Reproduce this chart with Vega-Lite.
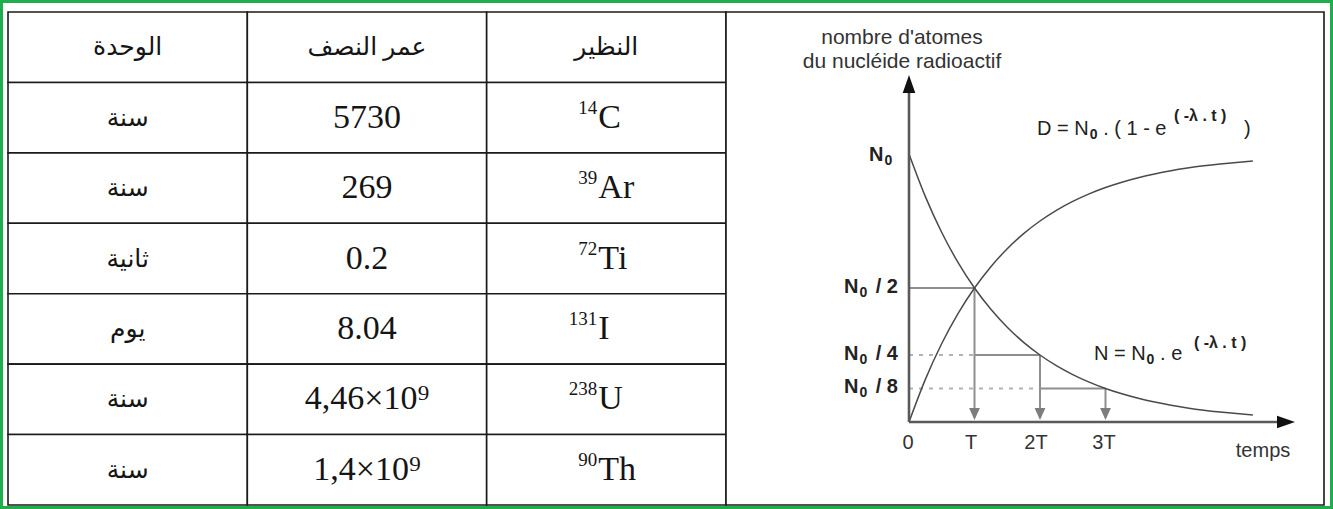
{
  "$schema": "https://vega.github.io/schema/vega-lite/v6.json",
  "width": 1333,
  "height": 509,
  "padding": 0,
  "autosize": {"type": "none"},
  "background": "white",
  "config": {"view": {"stroke": "#1fae4b", "strokeWidth": 6, "fill": "white"}},
  "datasets": {
    "table": [
      {"col": "unit", "row": 0, "txt": "الوحدة"}, {"col": "half", "row": 0, "txt": "عمر النصف"}, {"col": "iso", "row": 0, "txt": "النظير"},
      {"col": "unit", "row": 1, "txt": "سنة"}, {"col": "half", "row": 1, "txt": "5730"}, {"col": "iso", "row": 1, "txt": ""},
      {"col": "unit", "row": 2, "txt": "سنة"}, {"col": "half", "row": 2, "txt": "269"}, {"col": "iso", "row": 2, "txt": ""},
      {"col": "unit", "row": 3, "txt": "ثانية"}, {"col": "half", "row": 3, "txt": "0.2"}, {"col": "iso", "row": 3, "txt": ""},
      {"col": "unit", "row": 4, "txt": "يوم"}, {"col": "half", "row": 4, "txt": "8.04"}, {"col": "iso", "row": 4, "txt": ""},
      {"col": "unit", "row": 5, "txt": "سنة"}, {"col": "half", "row": 5, "txt": "4,46×10⁹"}, {"col": "iso", "row": 5, "txt": ""},
      {"col": "unit", "row": 6, "txt": "سنة"}, {"col": "half", "row": 6, "txt": "1,4×10⁹"}, {"col": "iso", "row": 6, "txt": ""}
    ],
    "iso": [
      {"col": "iso", "row": 1, "mass": "14", "sym": "C"},
      {"col": "iso", "row": 2, "mass": "39", "sym": "Ar"},
      {"col": "iso", "row": 3, "mass": "72", "sym": "Ti"},
      {"col": "iso", "row": 4, "mass": "131", "sym": "I"},
      {"col": "iso", "row": 5, "mass": "238", "sym": "U"},
      {"col": "iso", "row": 6, "mass": "90", "sym": "Th"}
    ],
    "cell": [{"cell": "graph", "rows": "all"}],
    "curves": [
      {"t": 0, "N": 1, "D": 0}, {"t": 0.25, "N": 0.8409, "D": 0.1591}, {"t": 0.5, "N": 0.7071, "D": 0.2929},
      {"t": 0.75, "N": 0.5946, "D": 0.4054}, {"t": 1, "N": 0.5, "D": 0.5}, {"t": 1.25, "N": 0.4204, "D": 0.5796},
      {"t": 1.5, "N": 0.3536, "D": 0.6464}, {"t": 1.75, "N": 0.2973, "D": 0.7027}, {"t": 2, "N": 0.25, "D": 0.75},
      {"t": 2.25, "N": 0.2102, "D": 0.7898}, {"t": 2.5, "N": 0.1768, "D": 0.8232}, {"t": 2.75, "N": 0.1487, "D": 0.8513},
      {"t": 3, "N": 0.125, "D": 0.875}, {"t": 3.25, "N": 0.1051, "D": 0.8949}, {"t": 3.5, "N": 0.0884, "D": 0.9116},
      {"t": 3.75, "N": 0.0743, "D": 0.9257}, {"t": 4, "N": 0.0625, "D": 0.9375}, {"t": 4.25, "N": 0.0526, "D": 0.9474},
      {"t": 4.5, "N": 0.0442, "D": 0.9558}, {"t": 4.75, "N": 0.0372, "D": 0.9628}, {"t": 5, "N": 0.0313, "D": 0.9687},
      {"t": 5.25, "N": 0.0263, "D": 0.9737}
    ],
    "axes": [
      {"t": 0, "v": 0, "t2": 0, "v2": 1.2612},
      {"t": 0, "v": 0, "t2": 5.756, "v2": 0}
    ],
    "solid": [
      {"t": 0, "v": 0.5, "t2": 1, "v2": 0.5},
      {"t": 1, "v": 0.25, "t2": 2, "v2": 0.25},
      {"t": 2, "v": 0.125, "t2": 3, "v2": 0.125},
      {"t": 1, "v": 0.5, "t2": 1, "v2": 0.035},
      {"t": 2, "v": 0.25, "t2": 2, "v2": 0.035},
      {"t": 3, "v": 0.125, "t2": 3, "v2": 0.035}
    ],
    "dotted": [
      {"t": 0, "v": 0.25, "t2": 1, "v2": 0.25},
      {"t": 0, "v": 0.125, "t2": 2, "v2": 0.125}
    ],
    "upArrow": [{"t": 0, "v": 1.2612}],
    "rightArrow": [{"t": 5.756, "v": 0}],
    "downArrows": [{"t": 1, "v": 0.0299}, {"t": 2, "v": 0.0299}, {"t": 3, "v": 0.0299}],
    "labels": [
      {"t": -0.107, "v": 1.4328, "label": "nombre d'atomes", "role": "title"},
      {"t": -0.107, "v": 1.3433, "label": "du nucléide radioactif", "role": "title"},
      {"t": -0.6107, "v": 0.9963, "label": "N", "role": "ylabL"},
      {"t": -0.374, "v": 0.9739, "label": "0", "role": "sub"},
      {"t": -0.9924, "v": 0.5037, "label": "N", "role": "ylabL"},
      {"t": -0.7557, "v": 0.4813, "label": "0", "role": "sub"},
      {"t": -0.168, "v": 0.5037, "label": "/ 2", "role": "ylabR"},
      {"t": -0.9924, "v": 0.2537, "label": "N", "role": "ylabL"},
      {"t": -0.7557, "v": 0.2313, "label": "0", "role": "sub"},
      {"t": -0.168, "v": 0.2537, "label": "/ 4", "role": "ylabR"},
      {"t": -0.9924, "v": 0.1306, "label": "N", "role": "ylabL"},
      {"t": -0.7557, "v": 0.1082, "label": "0", "role": "sub"},
      {"t": -0.168, "v": 0.1306, "label": "/ 8", "role": "ylabR"},
      {"t": -0.015, "v": -0.0784, "label": "0", "role": "xlab"},
      {"t": 0.947, "v": -0.0784, "label": "T", "role": "xlab"},
      {"t": 1.939, "v": -0.0784, "label": "2T", "role": "xlab"},
      {"t": 2.977, "v": -0.0784, "label": "3T", "role": "xlab"},
      {"t": 5.405, "v": -0.1082, "label": "temps", "role": "xlab"},
      {"t": 1.954, "v": 1.0933, "label": "D = N", "role": "formula"},
      {"t": 2.76, "v": 1.0709, "label": "0", "role": "sub"},
      {"t": 2.964, "v": 1.0933, "label": ". ( 1 - e", "role": "formula"},
      {"t": 4.046, "v": 1.1418, "label": "( -λ  .  t )", "role": "sup"},
      {"t": 5.115, "v": 1.0933, "label": ")", "role": "formula"},
      {"t": 2.824, "v": 0.2537, "label": "N = N", "role": "formula"},
      {"t": 3.626, "v": 0.2313, "label": "0", "role": "sub"},
      {"t": 3.833, "v": 0.2537, "label": ". e", "role": "formula"},
      {"t": 4.35, "v": 0.2948, "label": "( -λ  .  t )", "role": "sup"}
    ]
  },
  "layer": [
    {
      "encoding": {
        "x": {"field": "col", "type": "nominal", "axis": null,
              "scale": {"domain": ["unit", "half", "iso"], "range": [8, 726], "paddingInner": 0, "paddingOuter": 0}},
        "y": {"field": "row", "type": "ordinal", "axis": null,
              "scale": {"domain": [0, 1, 2, 3, 4, 5, 6], "range": [12, 505], "paddingInner": 0, "paddingOuter": 0}}
      },
      "layer": [
        {"data": {"name": "table"},
         "mark": {"type": "rect", "fill": "white", "stroke": "#1a1a1a", "strokeWidth": 1.6}},
        {"data": {"name": "table"},
         "transform": [{"filter": "datum.col == 'unit' || datum.row == 0"}],
         "mark": {"type": "text", "font": "Liberation Serif, DejaVu Sans", "fontSize": 25, "color": "#151515", "baseline": "middle", "align": "center"},
         "encoding": {"text": {"field": "txt"}}},
        {"data": {"name": "table"},
         "transform": [{"filter": "datum.col == 'half' && datum.row != 0"}],
         "mark": {"type": "text", "font": "Liberation Serif", "fontSize": 34, "color": "#151515", "baseline": "middle", "align": "center"},
         "encoding": {"text": {"field": "txt"}}},
        {"data": {"name": "iso"},
         "mark": {"type": "text", "font": "Liberation Serif", "fontSize": 34, "color": "#151515", "baseline": "middle", "align": "left", "dx": -8},
         "encoding": {"text": {"field": "sym"}}},
        {"data": {"name": "iso"},
         "mark": {"type": "text", "font": "Liberation Serif", "fontSize": 19, "color": "#151515", "baseline": "middle", "align": "right", "dx": -9, "dy": -10},
         "encoding": {"text": {"field": "mass"}}}
      ]
    },
    {
      "data": {"name": "cell"},
      "mark": {"type": "rect", "fill": "white", "stroke": "#1a1a1a", "strokeWidth": 1.6},
      "encoding": {
        "x": {"field": "cell", "type": "nominal", "axis": null,
              "scale": {"domain": ["graph"], "range": [726, 1324], "paddingInner": 0, "paddingOuter": 0}},
        "y": {"field": "rows", "type": "nominal", "axis": null,
              "scale": {"domain": ["all"], "range": [12, 505], "paddingInner": 0, "paddingOuter": 0}}
      }
    },
    {
      "encoding": {
        "x": {"field": "t", "type": "quantitative", "axis": null, "scale": {"domain": [-13.878, 6.4733], "nice": false, "zero": false}},
        "y": {"field": "v", "type": "quantitative", "axis": null, "scale": {"domain": [-0.3246, 1.5746], "nice": false, "zero": false}}
      },
      "layer": [
        {
          "data": {"name": "dotted"},
          "mark": {"type": "rule", "color": "#b3b3b3", "strokeWidth": 2, "strokeDash": [4, 6]},
          "encoding": {"x2": {"field": "t2"}, "y2": {"field": "v2"}}
        },
        {
          "data": {"name": "solid"},
          "mark": {"type": "rule", "color": "#8e8e8e", "strokeWidth": 2},
          "encoding": {"x2": {"field": "t2"}, "y2": {"field": "v2"}}
        },
        {
          "data": {"name": "curves"},
          "mark": {"type": "line", "color": "#4a4a4a", "strokeWidth": 1.5, "interpolate": "monotone"},
          "encoding": {"y": {"field": "N", "type": "quantitative", "axis": null, "scale": {"domain": [-0.3246, 1.5746], "nice": false, "zero": false}}}
        },
        {
          "data": {"name": "curves"},
          "mark": {"type": "line", "color": "#4a4a4a", "strokeWidth": 1.5, "interpolate": "monotone"},
          "encoding": {"y": {"field": "D", "type": "quantitative", "axis": null, "scale": {"domain": [-0.3246, 1.5746], "nice": false, "zero": false}}}
        },
        {
          "data": {"name": "axes"},
          "mark": {"type": "rule", "color": "#5a5a5a", "strokeWidth": 2.6},
          "encoding": {"x2": {"field": "t2"}, "y2": {"field": "v2"}}
        },
        {
          "data": {"name": "upArrow"},
          "mark": {"type": "point", "filled": true, "opacity": 1, "color": "#111", "shape": "M0,-1L0.7,1L-0.7,1Z", "size": 324}
        },
        {
          "data": {"name": "rightArrow"},
          "mark": {"type": "point", "filled": true, "opacity": 1, "color": "#111", "shape": "M1,0L-1,-0.7L-1,0.7Z", "size": 324}
        },
        {
          "data": {"name": "downArrows"},
          "mark": {"type": "point", "filled": true, "opacity": 1, "color": "#7d7d7d", "shape": "M0,1L-0.9,-1L0.9,-1Z", "size": 144}
        },
        {
          "data": {"name": "labels"},
          "transform": [{"filter": "datum.role == 'title'"}],
          "mark": {"type": "text", "font": "Liberation Sans", "fontSize": 21, "color": "#333", "align": "center", "baseline": "middle"},
          "encoding": {"text": {"field": "label"}}
        },
        {
          "data": {"name": "labels"},
          "transform": [{"filter": "datum.role == 'ylabL'"}],
          "mark": {"type": "text", "font": "Liberation Sans", "fontSize": 20, "fontWeight": "bold", "color": "#222", "align": "left", "baseline": "middle"},
          "encoding": {"text": {"field": "label"}}
        },
        {
          "data": {"name": "labels"},
          "transform": [{"filter": "datum.role == 'ylabR'"}],
          "mark": {"type": "text", "font": "Liberation Sans", "fontSize": 20, "fontWeight": "bold", "color": "#222", "align": "right", "baseline": "middle"},
          "encoding": {"text": {"field": "label"}}
        },
        {
          "data": {"name": "labels"},
          "transform": [{"filter": "datum.role == 'sub'"}],
          "mark": {"type": "text", "font": "Liberation Sans", "fontSize": 14, "fontWeight": "bold", "color": "#222", "align": "left", "baseline": "middle"},
          "encoding": {"text": {"field": "label"}}
        },
        {
          "data": {"name": "labels"},
          "transform": [{"filter": "datum.role == 'xlab'"}],
          "mark": {"type": "text", "font": "Liberation Sans", "fontSize": 20, "color": "#333", "align": "center", "baseline": "middle"},
          "encoding": {"text": {"field": "label"}}
        },
        {
          "data": {"name": "labels"},
          "transform": [{"filter": "datum.role == 'formula'"}],
          "mark": {"type": "text", "font": "Liberation Sans", "fontSize": 20, "color": "#222", "align": "left", "baseline": "middle"},
          "encoding": {"text": {"field": "label"}}
        },
        {
          "data": {"name": "labels"},
          "transform": [{"filter": "datum.role == 'sup'"}],
          "mark": {"type": "text", "font": "Liberation Sans", "fontSize": 16, "fontWeight": "bold", "color": "#222", "align": "left", "baseline": "middle"},
          "encoding": {"text": {"field": "label"}}
        }
      ]
    }
  ],
  "resolve": {"scale": {"x": "independent", "y": "independent"}}
}
